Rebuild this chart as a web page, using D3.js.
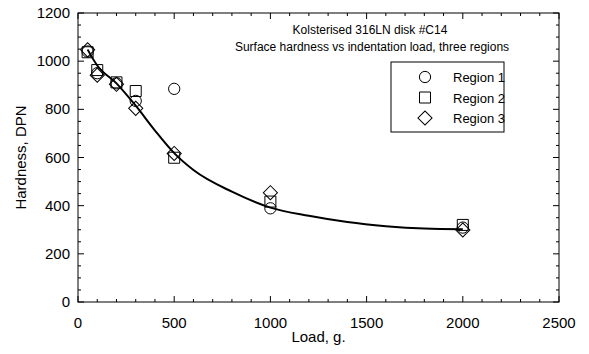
<!DOCTYPE html>
<html>
<head>
<meta charset="utf-8">
<script src="https://cdn.jsdelivr.net/npm/d3@7"></script>
<style>
  body { margin: 0; background: #fff; }
  text { font-family: "Liberation Sans", Arial, sans-serif; fill: #000; }
</style>
</head>
<body>
<div id="chart"></div>
<script>
const loads = [50, 100, 200, 300, 500, 1000, 2000];
const region1 = [1040, 950, 908, 835, 885, 389, 309];
const region2 = [1037, 963, 912, 876, 599, 417, 320];
const region3 = [1047, 942, 904, 804, 617, 454, 299];

// fitted curve
const fitLoads = [50, 100, 200, 300, 400, 500, 600, 800, 1000, 1200, 1400, 1600, 1800, 2000];
const fitHard = [1048, 982, 908, 815, 712, 618, 548, 458, 392, 358, 332, 315, 305, 302];

const xTicks = [0, 500, 1000, 1500, 2000, 2500];
const yTicks = [0, 200, 400, 600, 800, 1000, 1200];

const width = 589, height = 354;
const margin = { top: 13, right: 30, bottom: 52, left: 78 };
const w = width - margin.left - margin.right,
      h = height - margin.top - margin.bottom;

const svg = d3.select("#chart").append("svg")
    .attr("width", width)
    .attr("height", height);

const g = svg.append("g")
    .attr("transform", "translate(" + margin.left + "," + margin.top + ")");

const x = d3.scaleLinear().domain([0, 2500]).range([0, w]);
const y = d3.scaleLinear().domain([0, 1200]).range([h, 0]);

// frame
g.append("rect")
    .attr("width", w).attr("height", h)
    .attr("fill", "none").attr("stroke", "#000").attr("stroke-width", 1);

// inward ticks on all four sides
const tickG = g.append("g").attr("stroke", "#000").attr("stroke-width", 1);
function tickLines(vals, len, isX) {
    vals.forEach(v => {
        if (isX) {
            const px = x(v);
            tickG.append("line").attr("x1", px).attr("x2", px).attr("y1", h).attr("y2", h - len);
            tickG.append("line").attr("x1", px).attr("x2", px).attr("y1", 0).attr("y2", len);
        } else {
            const py = y(v);
            tickG.append("line").attr("y1", py).attr("y2", py).attr("x1", 0).attr("x2", len);
            tickG.append("line").attr("y1", py).attr("y2", py).attr("x1", w).attr("x2", w - len);
        }
    });
}
tickLines(d3.range(0, 2501, 100).filter(v => v % 500 !== 0), 3, true);
tickLines(xTicks, 6, true);
tickLines(d3.range(0, 1201, 50).filter(v => v % 200 !== 0), 3, false);
tickLines(yTicks, 6, false);

// tick labels
g.selectAll(".xl").data(xTicks).enter().append("text")
    .attr("x", d => x(d)).attr("y", h + 26)
    .attr("text-anchor", "middle").style("font-size", "15px")
    .text(d => d);
g.selectAll(".yl").data(yTicks).enter().append("text")
    .attr("x", -8).attr("y", d => y(d) + 5)
    .attr("text-anchor", "end").style("font-size", "15px")
    .text(d => d);

// axis titles
svg.append("text")
    .attr("x", margin.left + w / 2).attr("y", 342)
    .attr("text-anchor", "middle").style("font-size", "15px")
    .text("Load, g.");
svg.append("text")
    .attr("transform", "translate(26," + (margin.top + h / 2) + ") rotate(-90)")
    .attr("text-anchor", "middle").style("font-size", "15px")
    .text("Hardness, DPN");

// chart title
svg.append("text").attr("x", 370).attr("y", 34)
    .attr("text-anchor", "middle").style("font-size", "12px")
    .text("Kolsterised 316LN disk #C14");
svg.append("text").attr("x", 372).attr("y", 51)
    .attr("text-anchor", "middle").style("font-size", "12px")
    .text("Surface hardness vs indentation load, three regions");

// fitted curve
const line = d3.line()
    .x((d, i) => x(fitLoads[i]))
    .y(d => y(d))
    .curve(d3.curveMonotoneX);
g.append("path").datum(fitHard)
    .attr("d", line)
    .attr("fill", "none").attr("stroke", "#000").attr("stroke-width", 2);

// markers
const sym = {
    circle: d3.symbol().type(d3.symbolCircle).size(100),
    square: d3.symbol().type(d3.symbolSquare).size(121),
    diamond: d3.symbol().type(d3.symbolSquare).size(100)
};
function drawSeries(vals, kind) {
    g.selectAll(".m-" + kind).data(vals).enter().append("path")
        .attr("class", "m-" + kind)
        .attr("d", sym[kind])
        .attr("transform", (d, i) => "translate(" + x(loads[i]) + "," + y(d) + ")" + (kind === "diamond" ? " rotate(45)" : ""))
        .attr("fill", "none").attr("stroke", "#000").attr("stroke-width", 1);
}
drawSeries(region1, "circle");
drawSeries(region2, "square");
drawSeries(region3, "diamond");

// legend
const legend = svg.append("g").attr("transform", "translate(391,62)");
legend.append("rect").attr("width", 113).attr("height", 70)
    .attr("fill", "#fff").attr("stroke", "#000").attr("stroke-width", 1);
const names = ["Region 1", "Region 2", "Region 3"];
const kinds = ["circle", "square", "diamond"];
names.forEach((n, i) => {
    const yy = 15 + i * 20.5;
    legend.append("path").attr("d", sym[kinds[i]])
        .attr("transform", "translate(34," + yy + ")" + (kinds[i] === "diamond" ? " rotate(45)" : ""))
        .attr("fill", "none").attr("stroke", "#000");
    legend.append("text").attr("x", 62).attr("y", yy + 5)
        .style("font-size", "13px").text(n);
});
</script>
</body>
</html>
